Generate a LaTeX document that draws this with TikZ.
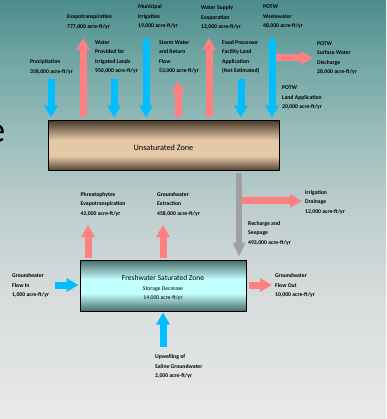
\documentclass[tikz,border=0pt]{standalone}
\usepackage{fontspec}
\setmainfont{Carlito}
\usetikzlibrary{arrows.meta,calc}
\definecolor{bg0}{RGB}{76,140,140}
\definecolor{bg1}{RGB}{112,166,164}
\definecolor{bg2}{RGB}{152,188,186}
\definecolor{bg3}{RGB}{190,206,205}
\definecolor{bg4}{RGB}{216,221,221}
\definecolor{bg5}{RGB}{233,233,233}
\definecolor{flowblue}{RGB}{0,190,255}
\definecolor{flowred}{RGB}{255,128,128}
\definecolor{flowgray}{RGB}{160,160,160}
\definecolor{brdark}{RGB}{78,62,46}
\definecolor{brlight}{RGB}{228,201,166}
\definecolor{tqdark}{RGB}{72,108,106}
\definecolor{tqlight}{RGB}{196,255,255}
\pgfdeclareverticalshading{bgshade}{100bp}{color(0bp)=(bg5); color(25bp)=(bg5); color(39bp)=(bg4); color(50bp)=(bg3); color(59.5bp)=(bg2); color(68bp)=(bg1); color(75bp)=(bg0); color(100bp)=(bg0)}
\pgfdeclareverticalshading{unsatshade}{100bp}{color(0bp)=(brdark); color(25bp)=(brdark); color(40bp)=(brlight); color(56bp)=(brlight); color(75bp)=(brdark); color(100bp)=(brdark)}
\pgfdeclareverticalshading{freshshade}{100bp}{color(0bp)=(tqdark); color(25bp)=(tqdark); color(42.5bp)=(tqlight); color(56bp)=(tqlight); color(75bp)=(tqdark); color(100bp)=(tqdark)}
\begin{document}
\begin{tikzpicture}[x=1pt,y=-1pt,
  lbl/.style={anchor=north west, inner sep=0pt, align=left, font=\fontsize{5.7}{9.4}\selectfont\bfseries},
  flowarrow/.style={line width=7pt, -{Triangle[width=13pt,length=12pt]}},
  bluearrow/.style={flowarrow, draw=flowblue},
  redarrow/.style={flowarrow, draw=flowred},
  grayarrow/.style={line width=6pt, draw=flowgray, -{Triangle[width=12pt,length=14pt]}},
  zonebox/.style={draw=black, line width=1pt, inner sep=0pt, shade}
]
\useasboundingbox (0,0) rectangle (386,419);
\clip (0,0) rectangle (386,419);
\shade[shading=bgshade] (0,0) rectangle (386,419);

% cropped title letter
\node[anchor=base east, inner sep=0pt, font=\fontsize{37}{40}\selectfont] (title) at (5.5,143) {e};

% boxes
\node[zonebox, shading=unsatshade, minimum width=231pt, minimum height=50pt] (unsat) at (163.5,146) {};
\node[inner sep=0pt, font=\fontsize{8.2}{10}\selectfont] (unsatlbl) at (163.5,147.5) {Unsaturated Zone};
\node[zonebox, shading=freshshade, minimum width=166pt, minimum height=51pt] (fresh) at (163,285.5) {};
\node[inner sep=0pt, font=\fontsize{7.5}{9}\selectfont] (freshlbl) at (163,278) {Freshwater Saturated Zone};
\node[inner sep=0pt, font=\fontsize{5.7}{7}\selectfont] (storlbl) at (163,289) {Storage Decrease};
\node[inner sep=0pt, font=\fontsize{5.7}{7}\selectfont] (storval) at (163,297.5) {14,000 acre-ft/yr};

% labels
\node[lbl] (prec) at (30,59.4) {Precipitation\\358,000 acre-ft/yr};
\node[lbl] (evap) at (67,14.4) {Evapotranspiration\\777,000 acre-ft/yr};
\node[lbl] (wprov) at (95,40.4) {Water\\Provided for\\Irrigated Lands\\950,000 acre-ft/yr};
\node[lbl] (muni) at (138,4.6) {Municipal\\Irrigation\\19,000 acre-ft/yr};
\node[lbl] (storm) at (159,40.4) {Storm Water\\and Return\\Flow\\53,000 acre-ft/yr};
\node[lbl] (wse) at (201,5.6) {Water Supply\\Evaporation\\12,000 acre-ft/yr};
\node[lbl] (food) at (222,40.4) {Food Processor\\Facility Land\\Application\\(Not Estimated)};
\node[lbl] (potww) at (263,5.0) {POTW\\Wastewater\\48,000 acre-ft/yr};
\node[lbl] (potwsd) at (317,41.4) {POTW\\Surface Water\\Discharge\\28,000 acre-ft/yr};
\node[lbl] (potwla) at (282,86.0) {POTW\\Land Application\\20,000 acre-ft/yr};
\node[lbl] (irrdr) at (305,190.0) {Irrigation\\Drainage\\12,000 acre-ft/yr};
\node[lbl] (rech) at (248,221.4) {Recharge and\\Seepage\\493,000 acre-ft/yr};
\node[lbl] (phreat) at (80.5,192.4) {Phreatophytes\\Evapotranspiration\\42,000 acre-ft/yr};
\node[lbl] (gwext) at (157,192.4) {Groundwater\\Extraction\\458,000 acre-ft/yr};
\node[lbl] (gwin) at (12,273.4) {Groundwater\\Flow In\\1,000 acre-ft/yr};
\node[lbl] (gwout) at (275,273.4) {Groundwater\\Flow Out\\10,000 acre-ft/yr};
\node[lbl] (upw) at (155,354.4) {Upwelling of\\Saline Groundwater\\2,000 acre-ft/yr};

% free arrow ends
\coordinate (precS) at (51,79);
\coordinate (evapE) at (83,38);
\coordinate (wprovS) at (114,79);
\coordinate (muniS) at (146,39);
\coordinate (stormE) at (178,81);
\coordinate (wseE) at (209,38);
\coordinate (foodS) at (241,79);
\coordinate (potwS) at (272,39);
\coordinate (potwsdE) at (313,58);
\coordinate (irrdrE) at (302,201);
\coordinate (phreatE) at (88,225);
\coordinate (gwextE) at (163,225);
\coordinate (gwinS) at (55,285);
\coordinate (gwoutE) at (272,285);
\coordinate (upwS) at (163,347);

% arrows into / out of unsaturated zone
\draw[bluearrow, shorten >=3pt] (precS) -- (precS |- unsat.north);
\draw[redarrow, shorten <=3pt] (evapE |- unsat.north) -- (evapE);
\draw[bluearrow, shorten >=3pt] (wprovS) -- (wprovS |- unsat.north);
\draw[bluearrow, shorten >=3pt] (muniS) -- (muniS |- unsat.north);
\draw[redarrow, shorten <=3pt] (stormE |- unsat.north) -- (stormE);
\draw[redarrow, shorten <=3pt] (wseE |- unsat.north) -- (wseE);
\draw[bluearrow, shorten >=3pt] (foodS) -- (foodS |- unsat.north);
\draw[bluearrow, shorten >=3pt] (potwS) -- (potwS |- unsat.north);
\draw[redarrow, shorten <=3.5pt] (potwS |- potwsdE) -- (potwsdE);

% recharge
\draw[grayarrow, shorten <=2pt, shorten >=3pt] (unsat.south -| 239,0) -- (fresh.north -| 239,0);
\draw[redarrow, shorten <=3pt] (239,201) -- (irrdrE);

% saturated zone
\draw[redarrow, shorten <=2pt] (phreatE |- fresh.north) -- (phreatE);
\draw[redarrow, shorten <=2pt] (gwextE |- fresh.north) -- (gwextE);
\draw[bluearrow, shorten >=1pt] (gwinS) -- (gwinS -| fresh.west);
\draw[redarrow, shorten <=2pt] (fresh.east |- gwoutE) -- (gwoutE);
\draw[bluearrow, shorten >=1pt] (upwS) -- (upwS |- fresh.south);
\end{tikzpicture}
\end{document}
